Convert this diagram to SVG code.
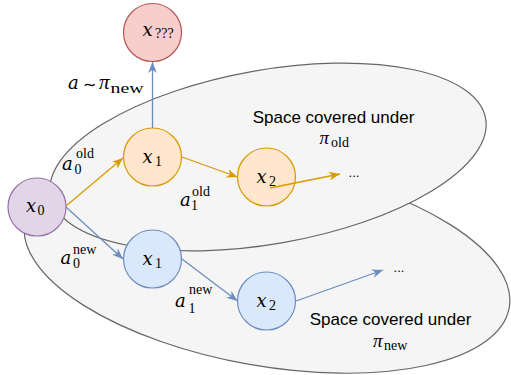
<svg xmlns="http://www.w3.org/2000/svg" width="511" height="375" viewBox="0 0 511 375">
<style>
.space{fill:#f5f5f5;stroke:#666666;stroke-width:1.2}
.m{font-family:"DejaVu Serif","Liberation Serif",serif;font-style:italic;font-size:18px;fill:#000}
.p{font-family:"Liberation Serif","DejaVu Serif",serif;font-style:italic;font-size:21px;fill:#000}
.q{font-family:"Liberation Serif","DejaVu Serif",serif;font-style:italic;font-size:19px;fill:#000}
.s{font-family:"Liberation Serif","DejaVu Serif",serif;font-size:14px;fill:#000}
.t{font-family:"Liberation Sans",Arial,sans-serif;font-size:17px;fill:#000}
.d{font-family:"Liberation Sans",Arial,sans-serif;font-size:13px;fill:#000}
.eo{stroke:#d79b00;stroke-width:1.3;fill:none;marker-end:url(#ao)}
.eb{stroke:#6c8ebf;stroke-width:1.3;fill:none;marker-end:url(#ab)}
</style>
<defs>
<marker id="ao" viewBox="0 0 10 8" refX="10" refY="4" markerWidth="11" markerHeight="9" markerUnits="userSpaceOnUse" orient="auto"><path d="M0,0 L10,4 L0,8 L3,4 Z" fill="#d79b00"/></marker>
<marker id="ab" viewBox="0 0 10 8" refX="10" refY="4" markerWidth="11" markerHeight="9" markerUnits="userSpaceOnUse" orient="auto"><path d="M0,0 L10,4 L0,8 L3,4 Z" fill="#6c8ebf"/></marker>
</defs>
<rect width="511" height="375" fill="#ffffff"/>
<g id="space-new">
<ellipse class="space" cx="267" cy="265" rx="246" ry="101" transform="rotate(10 267 265)"/>
<text class="t" x="390.5" y="325" text-anchor="middle">Space covered under</text>
<text class="q" x="373" y="347">π</text><text class="s" x="384" y="350">new</text>
</g>
<g id="space-old">
<ellipse class="space" cx="268" cy="157" rx="221" ry="87" transform="rotate(-10 268 157)"/>
<text class="t" x="333.5" y="123" text-anchor="middle">Space covered under</text>
<text class="q" x="319.5" y="144">π</text><text class="s" x="331" y="147">old</text>
</g>
<g id="x-unknown">
<circle cx="152.5" cy="32.5" r="29" fill="#f8cecc" stroke="#b85450" stroke-width="1.2"/>
<text class="m" x="142.5" y="36">x</text><text class="s" x="155" y="38">???</text>
</g>
<g id="x0">
<circle cx="37" cy="207" r="29" fill="#e1d5e7" stroke="#9673a6" stroke-width="1.2"/>
<text class="m" x="26" y="212">x</text><text class="s" x="37.5" y="215">0</text>
</g>
<g id="x1-old">
<circle cx="152.5" cy="157" r="29" fill="#ffe6cc" stroke="#d79b00" stroke-width="1.2"/>
<text class="m" x="142.5" y="163">x</text><text class="s" x="155" y="166">1</text>
</g>
<g id="x2-old">
<circle cx="266.5" cy="177" r="29" fill="#ffe6cc" stroke="#d79b00" stroke-width="1.2"/>
<text class="m" x="256.5" y="183">x</text><text class="s" x="269" y="186">2</text>
</g>
<g id="x1-new">
<circle cx="152.5" cy="259" r="29" fill="#dae8fc" stroke="#6c8ebf" stroke-width="1.2"/>
<text class="m" x="142.5" y="265">x</text><text class="s" x="155" y="268">1</text>
</g>
<g id="x2-new">
<circle cx="266.5" cy="301" r="29" fill="#dae8fc" stroke="#6c8ebf" stroke-width="1.2"/>
<text class="m" x="256.5" y="307">x</text><text class="s" x="269" y="310">2</text>
</g>
<g id="connectors">
<line class="eo" x1="66" y1="206" x2="123" y2="158"/>
<line class="eo" x1="182" y1="157" x2="237.5" y2="177"/>
<line class="eo" x1="270" y1="188" x2="340" y2="174"/>
<line class="eb" x1="152.5" y1="128" x2="152.5" y2="62"/>
<line class="eb" x1="66" y1="207" x2="123" y2="259"/>
<line class="eb" x1="182" y1="259" x2="237.5" y2="301"/>
<line class="eb" x1="296" y1="301" x2="383" y2="270"/>
<text class="d" x="354" y="177" text-anchor="middle">...</text>
<text class="d" x="399" y="272" text-anchor="middle">...</text>
<text class="m" x="68" y="89">a</text>
<text x="83" y="90" style="font-family:'DejaVu Sans',sans-serif;font-size:16px">∼</text>
<text class="p" x="99" y="89">π</text><text class="s" x="110.5" y="93" textLength="33" lengthAdjust="spacingAndGlyphs">new</text>
<text class="m" x="62" y="170">a</text><text class="s" x="76" y="158">old</text><text class="s" x="74.5" y="174">0</text>
<text class="m" x="180" y="206">a</text><text class="s" x="192" y="195.5">old</text><text class="s" x="191" y="210">1</text>
<text class="m" x="60.5" y="264">a</text><text class="s" x="73" y="254">new</text><text class="s" x="73" y="268">0</text>
<text class="m" x="175" y="307">a</text><text class="s" x="189" y="293.5">new</text><text class="s" x="188.5" y="313">1</text>
</g>
</svg>
